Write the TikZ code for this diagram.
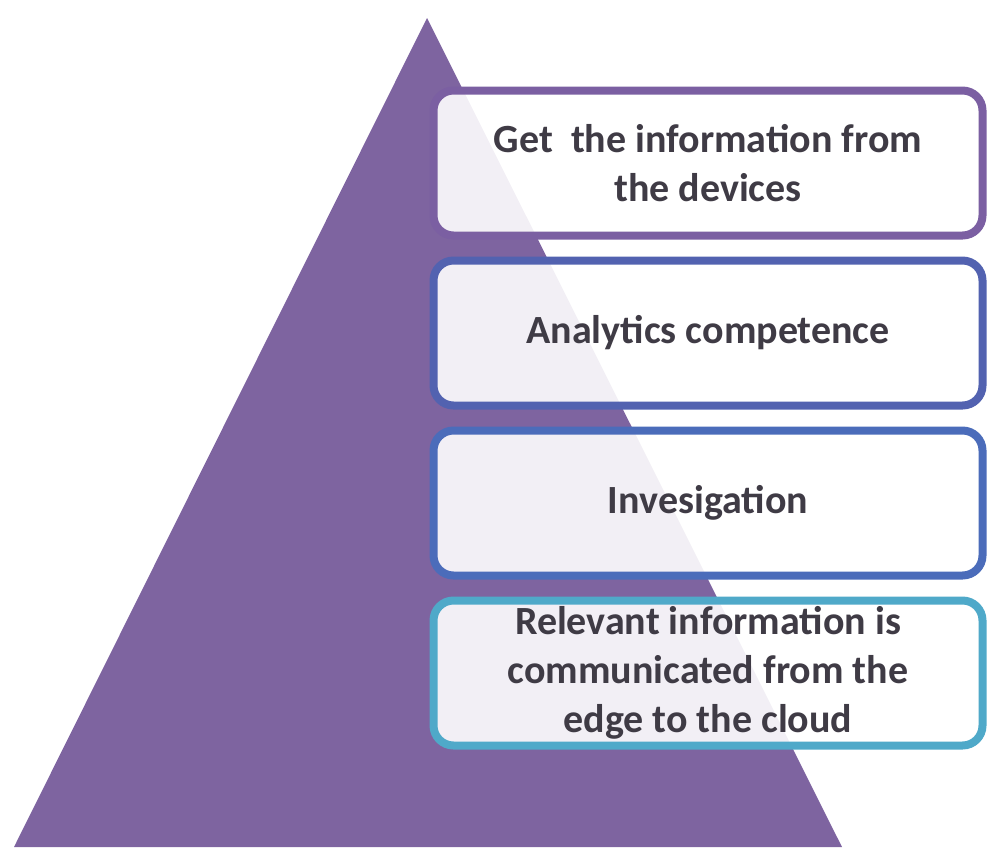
\documentclass[tikz,border=0pt]{standalone}
\usepackage{fontspec}
\setmainfont{Carlito}
\usetikzlibrary{positioning}

\definecolor{pyramid}{HTML}{7E64A0}
\definecolor{rimA}{HTML}{7B5FA2}
\definecolor{rimB}{HTML}{5262B0}
\definecolor{rimC}{HTML}{4B6CBA}
\definecolor{rimD}{HTML}{4FA9C9}
\definecolor{words}{HTML}{3F3B45}

\begin{document}
\begin{tikzpicture}[x=1pt,y=-1pt,
      every node/.style={rounded corners=20pt,line width=8pt,
        fill=white,fill opacity=0.9,text opacity=1,text=words,
        minimum width=549pt,minimum height=145pt,align=center,
        font=\fontsize{40}{49}\selectfont\bfseries},
      node distance=17pt]
    \useasboundingbox (0,0) rectangle (1000,860);
    \fill[pyramid] (427,18) -- (842,847) -- (14,847) -- cycle;
    \node[draw=rimA] (devices) at (708,163) {Get\ \ the information from\\the devices};
    \node[draw=rimB,below=of devices] (analytics) {Analytics competence};
    \node[draw=rimC,below=of analytics] (investigation) {Invesigation};
    \node[draw=rimD,below=of investigation] (relevant) {Relevant information is\\communicated from the\\edge to the cloud};
  \end{tikzpicture}
\end{document}
